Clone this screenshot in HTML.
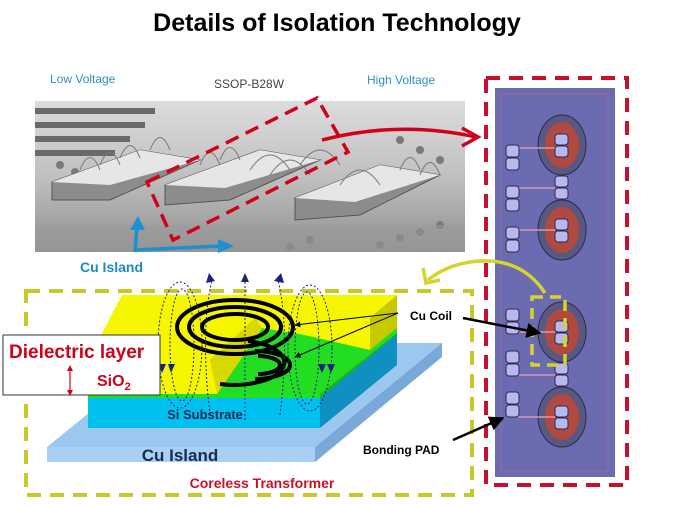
<!DOCTYPE html>
<html><head><meta charset="utf-8"><style>
body{margin:0;background:#fff;}
svg{display:block;font-family:"Liberation Sans",Arial,sans-serif;}
</style></head><body>
<svg width="675" height="506" viewBox="0 0 675 506" xmlns="http://www.w3.org/2000/svg">
<defs>
<linearGradient id="ph" x1="0" y1="0" x2="0" y2="1">
<stop offset="0" stop-color="#dcdcdc"/><stop offset="0.5" stop-color="#c0c0c0"/><stop offset="1" stop-color="#909090"/>
</linearGradient>
<marker id="ab" viewBox="0 0 10 10" refX="9" refY="5" markerWidth="6" markerHeight="6" orient="auto"><path d="M0,0L10,5L0,10z" fill="#000"/></marker>
</defs>
<text x="337" y="31" text-anchor="middle" font-size="25" font-weight="bold">Details of Isolation Technology</text>
<text x="50" y="83" font-size="12" fill="#2e8fc4">Low Voltage</text>
<text x="214" y="88" font-size="12" fill="#444">SSOP-B28W</text>
<text x="367" y="84" font-size="12" fill="#2e8fc4">High Voltage</text>

<!-- photo -->
<rect x="35" y="101" width="430" height="151" fill="url(#ph)"/>
<g fill="#6a6a6a">
<rect x="35" y="108" width="120" height="6"/><rect x="35" y="122" width="110" height="6"/><rect x="35" y="136" width="95" height="6"/><rect x="35" y="150" width="80" height="6"/>
</g>
<g fill="#7a7a7a"><circle cx="60" cy="165" r="4"/><circle cx="75" cy="172" r="4"/><circle cx="400" cy="140" r="4"/><circle cx="420" cy="150" r="4"/><circle cx="440" cy="160" r="4"/><circle cx="380" cy="245" r="4"/><circle cx="400" cy="238" r="4"/><circle cx="420" cy="232" r="4"/><circle cx="440" cy="225" r="4"/><circle cx="290" cy="247" r="4"/><circle cx="310" cy="240" r="4"/></g>
<g fill="#8c8c8c" stroke="#555" stroke-width="1">
<polygon points="52,182 140,150 200,160 110,200 52,200"/>
<polygon points="165,185 260,150 320,160 230,200 165,205"/>
<polygon points="295,198 380,165 440,175 360,215 295,220"/>
</g>
<g fill="#e6e6e6"><polygon points="52,182 140,150 200,160 110,185"/><polygon points="165,185 260,150 320,160 225,188"/><polygon points="295,198 380,165 440,175 355,202"/></g>
<g fill="none" stroke="#777" stroke-width="1">
<path d="M80,170q10,-25 20,0M100,165q10,-25 20,0M120,158q10,-25 20,0M200,165q10,-25 20,0M220,160q10,-25 20,0M250,170q20,-30 40,0M270,175q20,-30 40,0M340,185q20,-30 40,0M400,170q10,-25 20,0M420,175q10,-25 20,0M150,150q10,-25 20,0M300,165q20,-30 40,0"/>
</g>
<rect x="35" y="225" width="430" height="27" fill="#9a9a9a" opacity="0.5"/>
<polygon points="147,182 317,98 348,152 173,240" fill="none" stroke="#d0021b" stroke-width="3.5" stroke-dasharray="14,8"/>
<path d="M322,140 Q400,120 476,137" fill="none" stroke="#d0021b" stroke-width="3.5"/>
<path d="M462,128 L478,137 L462,146" fill="none" stroke="#d0021b" stroke-width="3.5"/>
<path d="M135,252 L137,226 M135,250 L222,246" fill="none" stroke="#1e90d0" stroke-width="3.5"/>
<polygon points="130,230 138,216 145,230" fill="#1e90d0"/>
<polygon points="218,239 234,246 218,253" fill="#1e90d0"/>
<text x="80" y="272" font-size="14" font-weight="bold" fill="#1e88c8">Cu Island</text>

<!-- chip -->
<rect x="486" y="78" width="141" height="407" fill="none" stroke="#c8102e" stroke-width="4" stroke-dasharray="14,9"/>
<rect x="495" y="88" width="120" height="389" fill="#6a6bb0"/>
<rect x="501" y="94" width="107" height="377" fill="none" stroke="#a06a90" stroke-width="1"/>
<g>
<g fill="#585880" stroke="#2a2a50" stroke-width="1">
<ellipse cx="562" cy="145" rx="24" ry="30"/><ellipse cx="562" cy="230" rx="24" ry="30"/><ellipse cx="562" cy="332" rx="24" ry="30"/><ellipse cx="562" cy="417" rx="24" ry="30"/>
</g>
<g fill="#b04a40">
<ellipse cx="562" cy="145" rx="17" ry="23"/><ellipse cx="562" cy="230" rx="17" ry="23"/><ellipse cx="562" cy="332" rx="17" ry="23"/><ellipse cx="562" cy="417" rx="17" ry="23"/>
</g>
<g stroke="#d49ab0" stroke-width="1.5"><line x1="518" y1="148" x2="555" y2="148"/><line x1="518" y1="188" x2="555" y2="188"/><line x1="518" y1="230" x2="555" y2="230"/><line x1="518" y1="332" x2="555" y2="332"/><line x1="518" y1="375" x2="555" y2="375"/><line x1="518" y1="417" x2="555" y2="417"/></g>
<g fill="#b8b8ee" stroke="#2a2a50" stroke-width="1">
<rect x="555" y="134" width="13" height="11" rx="3"/><rect x="555" y="146" width="13" height="11" rx="3"/>
<rect x="555" y="176" width="13" height="11" rx="3"/><rect x="555" y="188" width="13" height="11" rx="3"/>
<rect x="555" y="219" width="13" height="11" rx="3"/><rect x="555" y="231" width="13" height="11" rx="3"/>
<rect x="555" y="321" width="13" height="11" rx="3"/><rect x="555" y="333" width="13" height="11" rx="3"/>
<rect x="555" y="363" width="13" height="11" rx="3"/><rect x="555" y="375" width="13" height="11" rx="3"/>
<rect x="555" y="406" width="13" height="11" rx="3"/><rect x="555" y="418" width="13" height="11" rx="3"/>
<rect x="506" y="145" width="13" height="12" rx="3"/><rect x="506" y="158" width="13" height="12" rx="3"/>
<rect x="506" y="186" width="13" height="12" rx="3"/><rect x="506" y="199" width="13" height="12" rx="3"/>
<rect x="506" y="227" width="13" height="12" rx="3"/><rect x="506" y="240" width="13" height="12" rx="3"/>
<rect x="506" y="309" width="13" height="12" rx="3"/><rect x="506" y="322" width="13" height="12" rx="3"/>
<rect x="506" y="351" width="13" height="12" rx="3"/><rect x="506" y="364" width="13" height="12" rx="3"/>
<rect x="506" y="392" width="13" height="12" rx="3"/><rect x="506" y="405" width="13" height="12" rx="3"/>
</g>
</g>
<rect x="532" y="297" width="33" height="68" fill="none" stroke="#d4d430" stroke-width="3.5" stroke-dasharray="11,7"/>
<path d="M545,293 Q520,255 470,262 Q445,266 428,280" fill="none" stroke="#d4d430" stroke-width="3.5"/>
<path d="M423,268 L426,283 L440,280" fill="none" stroke="#d4d430" stroke-width="3.5"/>

<!-- transformer box -->
<rect x="26" y="291" width="446" height="204" fill="none" stroke="#c8c828" stroke-width="4" stroke-dasharray="14,9"/>
<polygon points="47,447 315,447 442,343 175,343" fill="#9cc8f0"/>
<polygon points="315,447 442,343 442,357 315,462" fill="#7aa8d8"/>
<rect x="47" y="447" width="268" height="15" fill="#a8d0f4"/>
<rect x="88" y="397" width="232" height="31" fill="#00c0f0"/>
<polygon points="320,397 397,333 397,365 320,428" fill="#1090c0"/>
<rect x="88" y="392" width="232" height="6" fill="#20e020"/>
<polygon points="320,392 397,328 397,334 320,398" fill="#18b818"/>
<polygon points="217,394 262,328 300,334 370,348 397,328 397,333 320,394" fill="#22dd22"/>
<polygon points="88,360 122,295 397,295 370,350 300,334 262,328 217,394 88,394" fill="#f6f600"/>
<polygon points="370,318 397,295 397,328 370,350" fill="#c8c800"/>
<polygon points="210,360 255,318 262,328 217,394" fill="#d8d800"/>
<g fill="none" stroke="#000" stroke-width="4">
<ellipse cx="235" cy="327" rx="58" ry="27"/><ellipse cx="235" cy="327" rx="46" ry="20"/><ellipse cx="235" cy="327" rx="33" ry="13"/>
<path d="M255,351 A35,14 0 0 1 255,379 M248,341 A45,20 0 0 1 220,384 M258,356 A22,9 0 0 1 258,374"/>
</g>
<g fill="none" stroke="#1a237e" stroke-width="1" stroke-dasharray="2,2">
<ellipse cx="180" cy="345" rx="22" ry="63"/><ellipse cx="182" cy="345" rx="12" ry="56"/>
<ellipse cx="310" cy="348" rx="22" ry="63"/><ellipse cx="307" cy="348" rx="12" ry="56"/>
<path d="M245,420 L245,280 M210,415 Q200,330 212,280 M280,415 Q290,330 278,280"/>
</g>
<g fill="#1a237e">
<polygon points="241,282 245,273 249,282"/><polygon points="206,283 209,273 215,281"/><polygon points="274,281 281,273 284,283"/>
<polygon points="158,364 162,373 166,364"/><polygon points="168,364 171,373 175,364"/><polygon points="318,364 322,373 326,364"/><polygon points="327,364 331,373 335,364"/>
</g>
<rect x="3" y="335" width="157" height="60" fill="#fff" stroke="#333" stroke-width="1"/>
<text x="9" y="358" font-size="19" font-weight="bold" fill="#d0021b">Dielectric layer</text>
<text x="97" y="386" font-size="16" font-weight="bold" fill="#d0021b">SiO<tspan font-size="11" dy="4">2</tspan></text>
<line x1="70" y1="368" x2="70" y2="393" stroke="#d0021b" stroke-width="1.2"/>
<polygon points="67,371 70,365 73,371" fill="#d0021b"/><polygon points="67,390 70,396 73,390" fill="#d0021b"/>
<text x="205" y="419" font-size="13" font-weight="bold" fill="#1a2a50" text-anchor="middle">Si Substrate</text>
<text x="180" y="461" font-size="17" font-weight="bold" fill="#1a2a50" text-anchor="middle">Cu Island</text>
<text x="262" y="488" font-size="14" font-weight="bold" fill="#c8102e" text-anchor="middle">Coreless Transformer</text>
<text x="410" y="320" font-size="12" font-weight="bold">Cu Coil</text>
<line x1="398" y1="313" x2="295" y2="325" stroke="#000" stroke-width="1" marker-end="url(#ab)"/>
<line x1="398" y1="313" x2="295" y2="357" stroke="#000" stroke-width="1" marker-end="url(#ab)"/>
<text x="363" y="454" font-size="12" font-weight="bold">Bonding PAD</text>
<line x1="463" y1="318" x2="540" y2="333" stroke="#000" stroke-width="2.5" marker-end="url(#ab)"/>
<line x1="453" y1="440" x2="503" y2="418" stroke="#000" stroke-width="2.5" marker-end="url(#ab)"/>
</svg>
</body></html>
